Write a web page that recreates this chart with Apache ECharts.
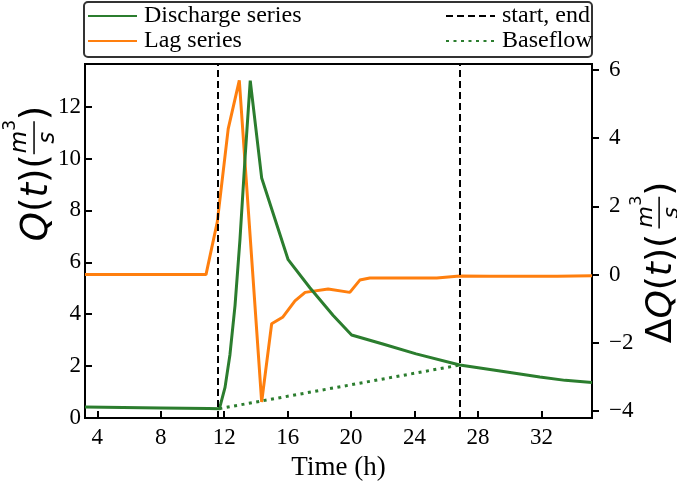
<!DOCTYPE html>
<html><head><meta charset="utf-8">
<script src="https://cdn.jsdelivr.net/npm/echarts@6/dist/echarts.min.js"></script>
<style>html,body{margin:0;padding:0;background:#fff}#c{width:677px;height:486px}</style>
</head><body><div id="c"></div>
<script>
// ---- data ----
var dischargeTime = [3.22, 8.0, 11.0, 11.69, 11.78, 12.05, 12.36, 12.68, 12.99, 13.31, 13.64, 14.36, 16.03, 17.4, 18.87, 20.03, 22.0, 24.1, 26.85, 29.5, 31.9, 33.5, 35.19];
var dischargeQ    = [0.42, 0.39, 0.37, 0.36, 0.55, 1.18, 2.44, 4.33, 6.86, 10.0, 13.0, 9.25, 6.1, 5.02, 3.95, 3.2, 2.85, 2.47, 2.04, 1.8, 1.58, 1.45, 1.37];
var lagTime = [3.22, 10.85, 11.56, 12.25, 12.95, 14.36, 14.99, 15.68, 16.46, 17.1, 18.55, 19.92, 20.55, 21.18, 25.4, 26.85, 28.74, 33.0, 35.19];
var lagDQ   = [0.0, 0.0, 1.54, 4.27, 5.69, -3.73, -1.44, -1.25, -0.77, -0.52, -0.42, -0.52, -0.16, -0.1, -0.1, -0.04, -0.05, -0.05, -0.03];
var eventStart = 11.56, eventEnd = 26.85;
var baseflowTime = [11.69, 26.85];
var baseflowQ = [0.36, 2.04];
var xTickLabels = [4, 8, 12, 16, 20, 24, 28, 32];
var yLeftTicks = [0, 2, 4, 6, 8, 10, 12];
var yRightTicks = [-4, -2, 0, 2, 4, 6];

function pairs(xs, ys){ return xs.map(function(x,i){ return [x, ys[i]]; }); }

var GREEN = '#2b7d2e', ORANGE = '#ff7f0e';
var serif = 'Liberation Serif';

function axisLabelGraphic(prefix, cx, cy, F){
  var f2 = Math.round(F*0.62), f3 = Math.round(F*0.45);
  var rich = {
    i: {fontFamily:'DejaVu Sans', fontStyle:'italic', fontSize:F, fill:'#000'},
    n: {fontFamily:'DejaVu Sans', fontSize:F, fill:'#000'}
  };
  var head = (prefix ? '{n|' + prefix + '}' : '') + '{i|Q}{n|(}{i|t}{n|)}{n|(}';
  var headW = (prefix ? 0.84*F : 0) + (0.787+0.39*4)*F;
  var fracW = 0.98*f2 + 0.5*f3 + 2;
  var total = headW + fracW + 0.39*F + 2;
  var x0 = -total/2;
  return {
    type:'group', x: cx, y: cy, rotation: Math.PI/2,
    children: [
      {type:'text', x: x0, y: 0, style:{text: head, rich: rich, verticalAlign:'middle', align:'left'}},
      {type:'text', x: x0+headW+1, y: -0.14*F, style:{text:'m', fontFamily:'DejaVu Sans', fontStyle:'italic', fontSize:f2, fill:'#000', verticalAlign:'bottom', align:'left'}},
      {type:'text', x: x0+headW+1+0.98*f2, y: -0.14*F - 0.55*f2, style:{text:'3', fontFamily:'DejaVu Sans', fontSize:f3, fill:'#000', verticalAlign:'bottom', align:'left'}},
      {type:'line', shape:{x1: x0+headW, y1: -0.08*F, x2: x0+headW+fracW, y2: -0.08*F}, style:{stroke:'#000', lineWidth:1.5}},
      {type:'text', x: x0+headW+fracW/2, y: -0.02*F, style:{text:'s', fontFamily:'DejaVu Sans', fontStyle:'italic', fontSize:f2, fill:'#000', verticalAlign:'top', align:'center'}},
      {type:'text', x: x0+headW+fracW+1, y: 0, style:{text:')', fontFamily:'DejaVu Sans', fontSize:F, fill:'#000', verticalAlign:'middle', align:'left'}}
    ]
  };
}

var chart = echarts.init(document.getElementById('c'), null, {renderer:'canvas'});
var legendCommon = {orient:'vertical', top: -1, itemWidth: 49, itemHeight: 14, itemGap: 1,
  itemStyle:{opacity:0}, textStyle:{fontFamily: serif, fontSize: 24, color:'#000', padding:[0,0,0,2]}};
var option = {
  animation: false,
  backgroundColor: '#fff',
  grid: {left: 85, right: 85, top: 64, bottom: 62, show: true, borderColor:'#000', borderWidth: 2, containLabel: false},
  legend: [
    Object.assign({data:['Discharge series','Lag series'], left: 82}, legendCommon),
    Object.assign({data:['start, end','Baseflow'], left: 440}, legendCommon)
  ],
  xAxis: {
    type:'value', min: 3.22, max: 35.19,
    name: 'Time (h)', nameLocation:'middle', nameGap: 36,
    nameTextStyle:{fontFamily: serif, fontSize: 27, color:'#000'},
    axisLine:{show:true, lineStyle:{color:'#000', width:2}},
    axisTick:{show:true, inside:true, length:7, lineStyle:{color:'#000', width:2}, customValues:[4,8,eventStart,12,16,20,24,eventEnd,28,32]},
    axisLabel:{fontFamily: serif, fontSize: 23, color:'#000', margin: 8, customValues: xTickLabels},
    splitLine:{show:false}
  },
  yAxis: [
    {type:'value', min:0, max:13.64, interval:2, position:'left',
     axisLine:{show:true, lineStyle:{color:'#000', width:2}},
     axisTick:{show:true, inside:true, length:7, lineStyle:{color:'#000', width:2}},
     axisLabel:{fontFamily: serif, fontSize: 23, color:'#000', margin: 4, customValues: yLeftTicks},
     splitLine:{show:false}},
    {type:'value', min:-4.2, max:6.17, position:'right',
     axisLine:{show:true, lineStyle:{color:'#000', width:2}},
     axisTick:{show:true, inside:false, length:7, lineStyle:{color:'#000', width:2}, customValues: yRightTicks},
     axisLabel:{fontFamily: serif, fontSize: 23, color:'#000', margin: 17, customValues: yRightTicks,
       formatter: function(v){ return v < 0 ? '\u2212' + Math.abs(v) : String(v); }},
     splitLine:{show:false}}
  ],
  series: [
    {name:'Discharge series', type:'line', yAxisIndex:0, data: pairs(dischargeTime, dischargeQ), symbol:'none',
     lineStyle:{color:GREEN, width:3}, itemStyle:{color:GREEN}, z:3},
    {name:'Lag series', type:'line', yAxisIndex:1, data: pairs(lagTime, lagDQ), symbol:'none',
     lineStyle:{color:ORANGE, width:3}, itemStyle:{color:ORANGE}, z:2},
    {name:'start, end', type:'line', yAxisIndex:0, data: [], symbol:'none',
     lineStyle:{color:'#000', width:2, type:[7,4]}, itemStyle:{color:'#000'},
     markLine:{symbol:['none','none'], silent:true, label:{show:false},
       lineStyle:{color:'#000', width:2, type:[7,4]},
       data:[{xAxis: eventStart},{xAxis: eventEnd}]}, z:4},
    {name:'Baseflow', type:'line', yAxisIndex:0, data: pairs(baseflowTime, baseflowQ), symbol:'none',
     lineStyle:{color:GREEN, width:3, type:[3,4.5]}, itemStyle:{color:GREEN}, z:3}
  ],
  graphic: [
    {type:'rect', z:-1, shape:{x:84, y:2, width:508, height:55, r:4}, style:{fill:'#fff', stroke:'#333', lineWidth:2}},
    axisLabelGraphic('', 37, 173, 37),
    axisLabelGraphic('\u0394', 662, 262, 36)
  ]
};
chart.setOption(option);
</script></body></html>
